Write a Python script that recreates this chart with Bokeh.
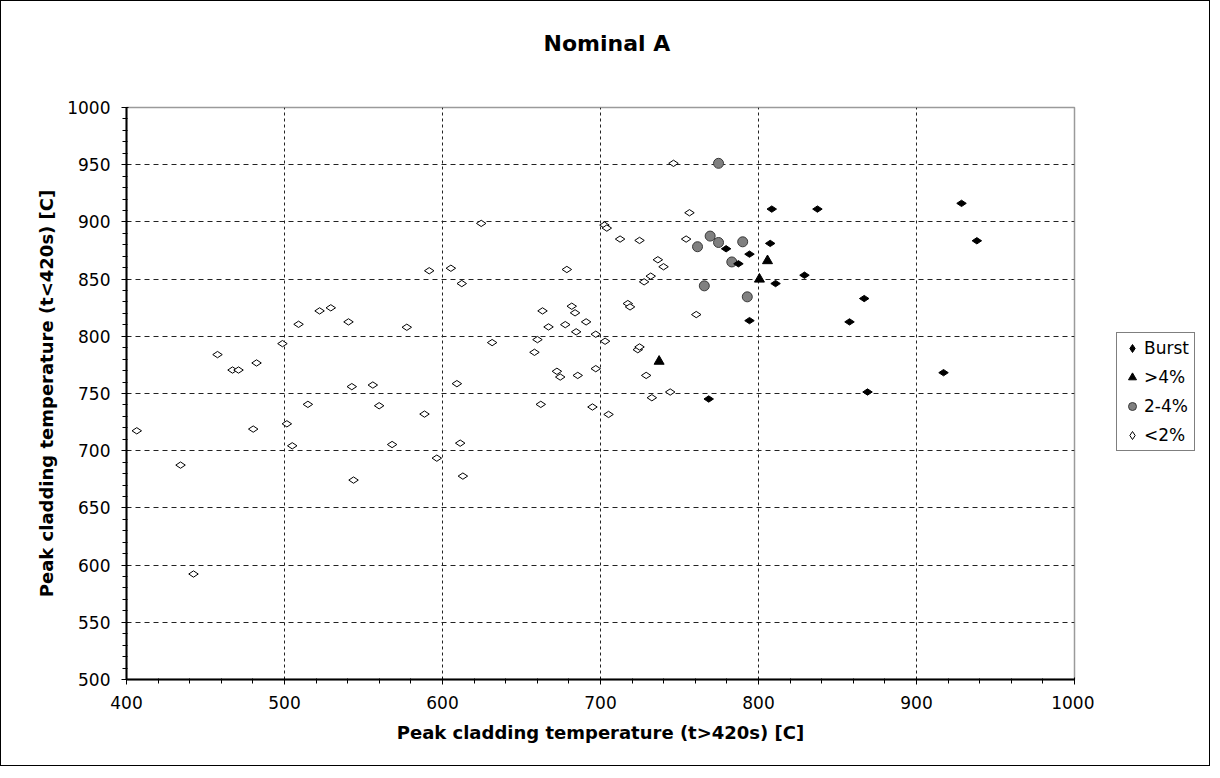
import numpy as np
from bokeh.plotting import figure
from bokeh.layouts import row
from bokeh.models import (ColumnDataSource, Legend, LegendItem, Title,
                          SingleIntervalTicker, Range1d)
from bokeh.embed import file_html
from bokeh.resources import INLINE

# ---- data ----
title_text = "Nominal A"
x_label = "Peak cladding temperature (t>420s) [C]"
y_label = "Peak cladding temperature (t<420s) [C]"

burst_x = [768.5, 779.5, 787.3, 794.3, 794.3, 807.4, 808.4, 810.8, 829.1, 837.3,
           857.6, 866.9, 869.0, 917.1, 928.5, 938.2]
burst_y = [745.2, 876.5, 863.4, 871.8, 813.7, 881.2, 911.2, 846.1, 853.4, 911.2,
           812.6, 833.0, 751.3, 768.2, 916.2, 883.5]

gt4_x = [737.1, 800.6, 805.7]
gt4_y = [778.1, 849.9, 866.0]

mid_x = [765.7, 761.4, 769.4, 774.7, 783.1, 790.0, 792.9, 774.7]
mid_y = [844.1, 878.3, 887.6, 882.0, 865.0, 882.6, 834.5, 951.2]

lt2_x = [406.5, 434.2, 442.4, 457.6, 467.1, 470.9, 482.3, 480.2, 498.7, 501.5,
         504.9, 508.9, 514.8, 522.2, 529.3, 540.5, 542.6, 543.7, 555.9, 559.9,
         568.1, 577.4, 588.6, 591.6, 596.4, 605.3, 609.1, 611.2, 612.2, 612.9,
         624.5, 631.4,
         658.2, 660.1, 662.2, 663.3, 667.1, 672.4, 674.5, 677.7, 678.7, 681.8,
         683.9, 684.6, 685.6, 690.9, 694.9, 697.0, 697.0, 702.5, 704.0, 702.9,
         705.1, 712.4, 717.3, 718.7, 723.6, 724.7, 724.7, 727.6, 728.9, 731.8,
         732.5, 736.3, 739.9, 744.1, 746.2, 754.2, 756.3, 760.6]
lt2_y = [717.4, 687.4, 592.2, 784.0, 770.5, 770.5, 776.7, 718.9, 793.6, 723.5,
         704.3, 810.5, 740.5, 822.2, 824.9, 812.6, 756.0, 674.3, 757.4, 739.3,
         705.4, 807.9, 732.0, 857.3, 693.5, 859.5, 758.6, 706.6, 846.1, 677.8,
         898.7, 794.5,
         786.0, 797.1, 740.5, 822.2, 808.2, 769.4, 764.4, 810.2, 858.4, 826.3,
         820.5, 803.9, 765.8, 812.6, 738.2, 801.8, 771.7, 897.2, 894.6, 795.7,
         731.7, 885.0, 828.6, 825.7, 788.3, 790.7, 883.8, 847.6, 765.8, 852.6,
         746.3, 866.9, 860.8, 751.3, 951.2, 885.0, 908.0, 819.0]

series_names = ["Burst", ">4%", "2-4%", "<2%"]

FONT = "DejaVu Sans"
H = 764

# marker styles shared by the plot and the legend panel
STYLE_LT2 = dict(marker="diamond", angle=np.pi / 2, size=9.5,
                 fill_color="white", line_color="black", line_width=1)
STYLE_MID = dict(marker="circle", size=10,
                 fill_color="#808080", line_color="#3a3a3a", line_width=1)
STYLE_GT4 = dict(marker="triangle", size=10,
                 fill_color="black", line_color="black", line_width=1)
STYLE_BURST = dict(marker="diamond", angle=np.pi / 2, size=9.5,
                   fill_color="black", line_color="black", line_width=1)

p = figure(width=1093, height=H, output_backend="svg", toolbar_location=None,
           x_range=Range1d(400, 1000), y_range=Range1d(500, 1000),
           min_border_left=125, min_border_right=20,
           min_border_top=106, min_border_bottom=86)
p.title = None
p.background_fill_color = "white"
p.border_fill_color = "white"
p.outline_line_color = "#9a9a9a"
p.outline_line_width = 1.5

# spacer between plot area and title, then the title itself
p.add_layout(Title(text=" ", text_font=FONT, text_font_size="22px", standoff=20), "above")
p.add_layout(Title(text=title_text, align="left", offset=417, standoff=10,
                   text_font=FONT, text_font_style="bold",
                   text_font_size="22px", text_color="black"), "above")

p.xaxis.ticker = SingleIntervalTicker(interval=100, num_minor_ticks=5)
p.yaxis.ticker = SingleIntervalTicker(interval=50, num_minor_ticks=5)

for ax in (p.xaxis, p.yaxis):
    ax.axis_line_color = "black"
    ax.axis_line_width = 2
    ax.major_tick_line_color = "black"
    ax.minor_tick_line_color = "black"
    ax.major_tick_line_width = 1
    ax.minor_tick_line_width = 1
    ax.major_tick_in = 2
    ax.major_tick_out = 5
    ax.minor_tick_in = 1
    ax.minor_tick_out = 4
    ax.major_label_text_font = FONT
    ax.major_label_text_font_size = "17px"
    ax.major_label_text_color = "black"
    ax.axis_label_text_font = FONT
    ax.axis_label_text_font_style = "bold"
    ax.axis_label_text_font_size = "18px"
    ax.axis_label_text_color = "black"

p.xaxis.axis_label = x_label
p.yaxis.axis_label = y_label
p.xaxis.major_label_standoff = 11
p.yaxis.major_label_standoff = 11
p.xaxis.axis_label_standoff = 10
p.yaxis.axis_label_standoff = 7

p.xgrid.ticker = SingleIntervalTicker(interval=100)
p.ygrid.ticker = SingleIntervalTicker(interval=50)
p.xgrid.grid_line_color = "#222222"
p.xgrid.grid_line_dash = "3 3"
p.xgrid.grid_line_width = 1
p.ygrid.grid_line_color = "#222222"
p.ygrid.grid_line_dash = "5 4"
p.ygrid.grid_line_width = 1

p.scatter(x=lt2_x, y=lt2_y, **STYLE_LT2)
p.scatter(x=mid_x, y=mid_y, **STYLE_MID)
p.scatter(x=gt4_x, y=gt4_y, **STYLE_GT4)
p.scatter(x=burst_x, y=burst_y, **STYLE_BURST)

# ---- legend panel to the right of the plot area ----
p2 = figure(width=115, height=H, output_backend="svg", toolbar_location=None,
            x_axis_type=None, y_axis_type=None,
            x_range=Range1d(0, 1), y_range=Range1d(0, 1),
            min_border_left=0, min_border_right=0,
            min_border_top=0, min_border_bottom=0)
p2.title = None
p2.outline_line_color = None
p2.grid.visible = False
p2.background_fill_color = "white"
p2.border_fill_color = "white"

# legend proxies: one point from each series, outside this panel's ranges
def proxy(xs, ys):
    return ColumnDataSource(dict(x=xs[:1], y=ys[:1]))

l_burst = p2.scatter("x", "y", source=proxy(burst_x, burst_y), **STYLE_BURST)
l_gt4 = p2.scatter("x", "y", source=proxy(gt4_x, gt4_y), **STYLE_GT4)
l_mid = p2.scatter("x", "y", source=proxy(mid_x, mid_y), **STYLE_MID)
l_lt2 = p2.scatter("x", "y", source=proxy(lt2_x, lt2_y), **STYLE_LT2)

legend = Legend(items=[
    LegendItem(label=series_names[0], renderers=[l_burst]),
    LegendItem(label=series_names[1], renderers=[l_gt4]),
    LegendItem(label=series_names[2], renderers=[l_mid]),
    LegendItem(label=series_names[3], renderers=[l_lt2]),
], location=(22, 228))
legend.border_line_color = "black"
legend.border_line_width = 1
legend.background_fill_color = "white"
legend.background_fill_alpha = 1
legend.label_text_font = FONT
legend.label_text_font_size = "17px"
legend.label_text_color = "black"
legend.padding = 5
legend.margin = 0
legend.spacing = 9
legend.glyph_width = 20
legend.glyph_height = 20
legend.label_height = 20
legend.label_standoff = 2
p2.add_layout(legend, "center")

layout = row(p, p2)
layout.styles = {"border": "1px solid black"}

open("out.html", "w").write(file_html(layout, INLINE))
